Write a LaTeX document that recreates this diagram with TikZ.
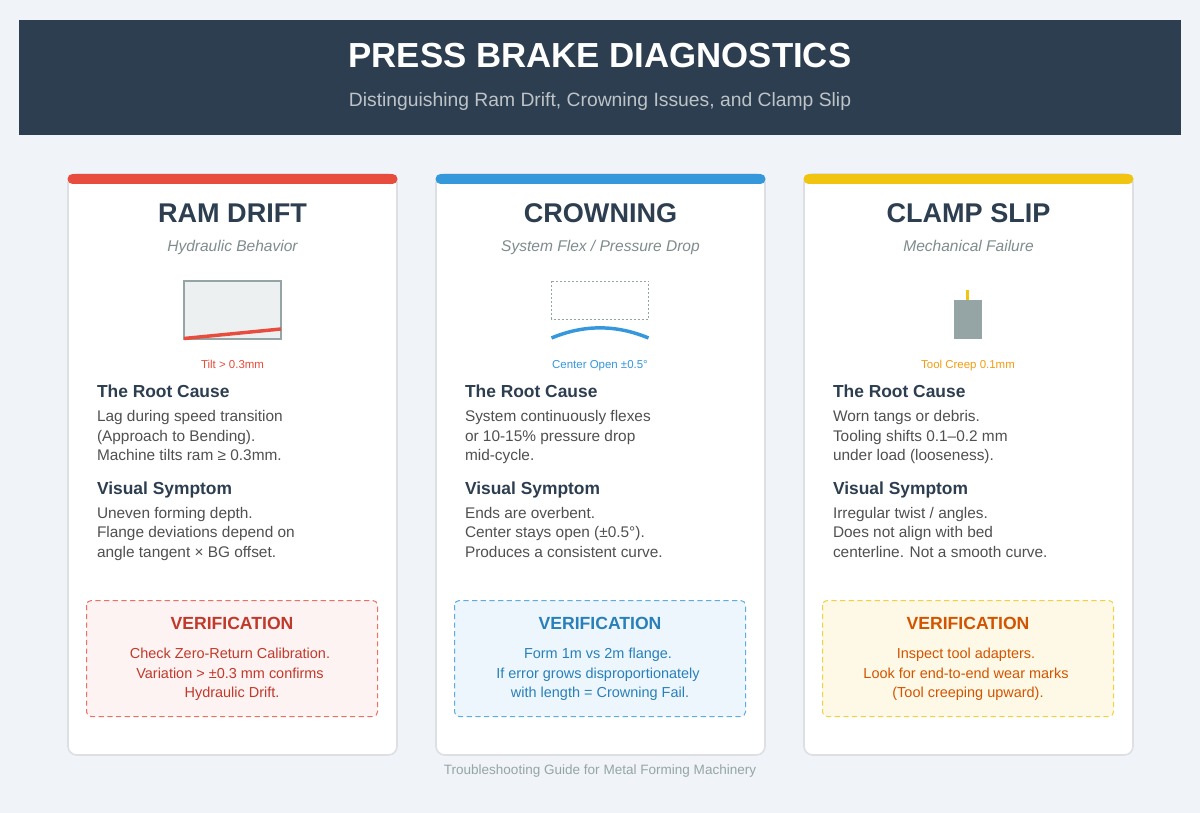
\documentclass[tikz,border=0pt]{standalone}
\usepackage{fontspec}
\setmainfont{Liberation Sans}
\definecolor{pagebg}{HTML}{F0F3F8}
\definecolor{navy}{HTML}{2C3E50}
\definecolor{subt}{HTML}{BDC3C7}
\definecolor{cardline}{HTML}{DDDFE4}
\definecolor{grayt}{HTML}{7F8C8D}
\definecolor{bodyt}{HTML}{505050}
\definecolor{steel}{HTML}{95A5A6}
\definecolor{lightf}{HTML}{ECF0F1}
\definecolor{cred}{HTML}{E74C3C}
\definecolor{cblue}{HTML}{3498DB}
\definecolor{cyel}{HTML}{F1C40F}
\definecolor{corg}{HTML}{F39C12}
\definecolor{dred}{HTML}{C0392B}
\definecolor{dblue}{HTML}{2980B9}
\definecolor{dorg}{HTML}{D35400}
\definecolor{fred}{HTML}{FDF3F2}
\definecolor{fblue}{HTML}{EDF6FC}
\definecolor{fyel}{HTML}{FEF9E7}
\newcommand{\fs}[1]{\fontsize{#1}{#1}\selectfont}
\tikzset{
  x=0.75pt,y=-0.75pt,
  txt/.style={inner sep=0pt,outer sep=0pt},
  cardbox/.style={draw=cardline,line width=1.2pt,fill=white,rounded corners=6.5pt},
  cardbar/.style={line width=7.5pt,line cap=round},
  cardtitle/.style={txt,anchor=base,text=navy,font=\fs{20.3}\bfseries},
  cardsub/.style={txt,anchor=base,text=grayt,font=\fs{11.65}\itshape},
  smalllab/.style={txt,anchor=base,font=\fs{8.6}},
  heading/.style={txt,anchor=base west,text=navy,font=\fs{13.05}\bfseries},
  bodyline/.style={txt,anchor=base west,text=bodyt,font=\fs{11.55}},
  vtitle/.style={txt,anchor=base,font=\fs{13.2}\bfseries},
  vline/.style={txt,anchor=base,font=\fs{10.85}},
  vbox/.style={dash pattern=on 3.9pt off 2.6pt,line width=0.75pt,rounded corners=3.5pt},
}
% #1 prefix, #2 left x, #3 colour, #4 title, #5 subtitle
\newcommand{\cardbase}[5]{%
  \path[cardbox] (#2,174) rectangle ++(329,581);
  \draw[cardbar,#3] (#2+4.5,179) -- ++(320,0);
  \node[cardtitle] (#1title) at (#2+164.5,223) {#4};
  \node[cardsub] (#1sub) at (#2+164.5,251.5) {#5};
}
% #1 prefix, #2 left x, then 6 lines
\newcommand{\cardbody}[8]{%
  \node[heading] (#1h1) at (#2+29,397) {The Root Cause};
  \node[bodyline] (#1a1) at (#2+29,421) {#3};
  \node[bodyline] (#1a2) at (#2+29,441) {#4};
  \node[bodyline] (#1a3) at (#2+29,460.5) {#5};
  \node[heading] (#1h2) at (#2+29,494) {Visual Symptom};
  \node[bodyline] (#1b1) at (#2+29,518) {#6};
  \node[bodyline] (#1b2) at (#2+29,537.5) {#7};
  \node[bodyline] (#1b3) at (#2+29,557.5) {#8};
}
% #1 prefix, #2 left x, #3 border, #4 fill, #5 text, #6-8 lines
\newcommand{\cardver}[8]{%
  \path[vbox,draw=#3!80!white,fill=#4] (#2+18.5,600.5) rectangle ++(291,116);
  \node[vtitle,text=#5] (#1vt) at (#2+164,629) {VERIFICATION};
  \node[vline,text=#5] (#1v1) at (#2+162,658) {#6};
  \node[vline,text=#5] (#1v2) at (#2+162,678) {#7};
  \node[vline,text=#5] (#1v3) at (#2+164,697.5) {#8};
}
\begin{document}
\begin{tikzpicture}
\useasboundingbox (0,0) rectangle (1200,813);
\fill[pagebg] (0,0) rectangle (1200,813);
\fill[navy] (19,20) rectangle (1181,135);
\node[txt,anchor=base,text=white,font=\fs{26.1}\bfseries] (maintitle) at (600,68) {PRESS BRAKE DIAGNOSTICS};
\node[txt,anchor=base,text=subt,font=\fs{14.48}] (mainsub) at (600,106.5) {Distinguishing Ram Drift, Crowning Issues, and Clamp Slip};

% Card 1
\cardbase{a}{68}{cred}{RAM DRIFT}{Hydraulic Behavior}
\draw[steel,fill=lightf,line width=1.5pt] (184,281) rectangle (281,339);
\draw[cred,line width=2.6pt] (184,338.5) -- (281,329);
\node[smalllab,text=cred] (alab) at (232.5,368) {Tilt > 0.3mm};
\cardbody{a}{68}{Lag during speed transition}{(Approach to Bending).}{Machine tilts ram ≥ 0.3mm.}{Uneven forming depth.}{Flange deviations depend on}{angle tangent × BG offset.}
\cardver{a}{68}{cred}{fred}{dred}{Check Zero-Return Calibration.}{Variation > ±0.3 mm confirms}{Hydraulic Drift.}

% Card 2
\cardbase{b}{436}{cblue}{CROWNING}{System Flex / Pressure Drop}
\draw[steel,line width=0.75pt,dash pattern=on 1.5pt off 1.5pt] (551.5,281) rectangle (648.5,319);
\draw[cblue,line width=2.6pt] (551.5,338) .. controls (584,324.5) and (616,324.5) .. (648.5,338);
\node[smalllab,text=cblue] (blab) at (600,368) {Center Open ±0.5°};
\cardbody{b}{436}{System continuously flexes}{or 10-15\% pressure drop}{mid-cycle.}{Ends are overbent.}{Center stays open (±0.5°).}{Produces a consistent curve.}
\cardver{b}{436}{cblue}{fblue}{dblue}{Form 1m vs 2m flange.}{If error grows disproportionately}{with length = Crowning Fail.}

% Card 3
\cardbase{c}{804}{cyel}{CLAMP SLIP}{Mechanical Failure}
\fill[steel] (953.5,300) rectangle (982,338.5);
\draw[cyel,line width=2.25pt] (967.8,300) -- (967.8,290);
\node[smalllab,text=corg] (clab) at (968,368) {Tool Creep 0.1mm};
\cardbody{c}{804}{Worn tangs or debris.}{Tooling shifts 0.1–0.2 mm}{under load (looseness).}{Irregular twist / angles.}{Does not align with bed}{centerline. Not a smooth curve.}
\cardver{c}{804}{cyel}{fyel}{dorg}{Inspect tool adapters.}{Look for end-to-end wear marks}{(Tool creeping upward).}

\node[txt,anchor=base,text=steel,font=\fs{10.15}] (foot) at (600,774) {Troubleshooting Guide for Metal Forming Machinery};
\end{tikzpicture}
\end{document}
